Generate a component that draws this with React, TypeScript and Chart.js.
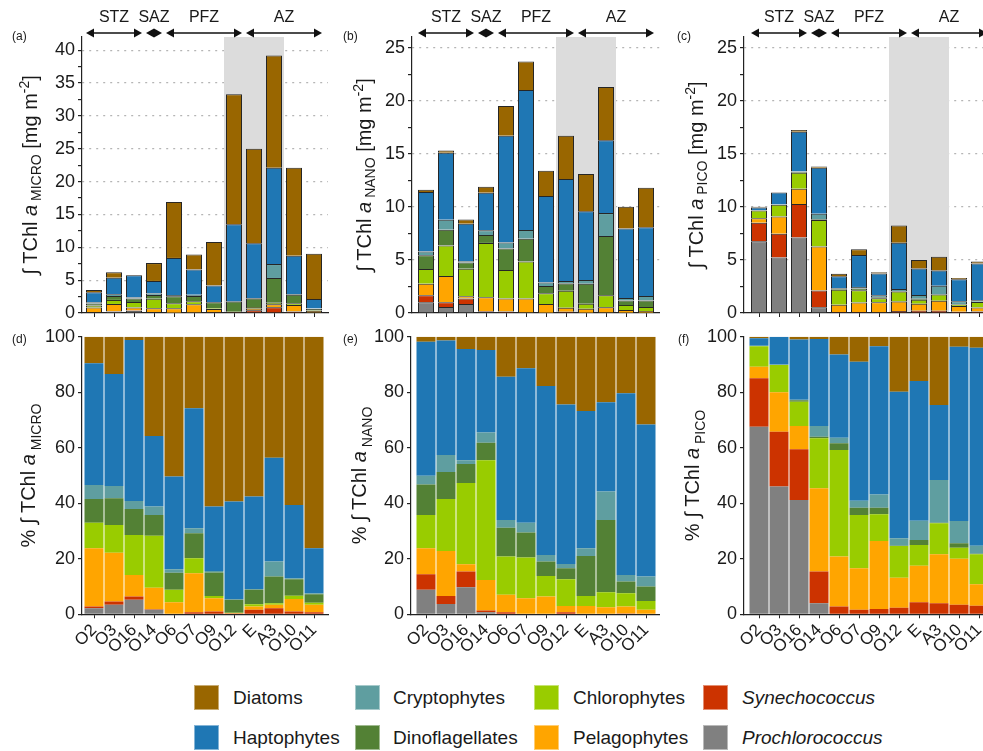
import React, { useEffect, useRef } from 'react';
import { Chart, registerables } from 'chart.js';

Chart.register(...registerables);

const FONT = '"Liberation Sans", Arial, Helvetica, sans-serif';
const INK = '#1a1a1a';

// ---------- categories ----------
const stations = ['O2', 'O3', 'O16', 'O14', 'O6', 'O7', 'O9', 'O12', 'E', 'A3', 'O10', 'O11'];

// ---------- zones (in station-index units) ----------
const zoneNames = ['STZ', 'SAZ', 'PFZ', 'AZ'];
const zoneStart = [-0.5, 2.5, 3.5, 7.5];
const zoneEnd = [2.5, 3.5, 7.5, 11.5];
const shadeStart = 6.5;
const shadeEnd = 9.5;

// ---------- integrated TChl a totals [mg m-2] ----------
const microTotal = [3.5, 6.2, 5.8, 7.6, 16.9, 8.9, 10.8, 33.3, 25.0, 39.2, 22.1, 9.0];
const nanoTotal = [11.6, 15.3, 8.8, 11.9, 19.5, 23.7, 13.4, 16.7, 13.1, 21.3, 10.0, 11.8];
const picoTotal = [10.0, 11.35, 17.25, 13.8, 3.7, 6.0, 3.85, 8.25, 5.0, 5.3, 3.3, 4.85];

// ---------- % contribution, MICRO ----------
const microProchlorococcus = [2.2, 3.4, 5.2, 1.6, 0, 0, 0, 0, 0, 0, 0, 0];
const microSynechococcus = [0.6, 1.2, 1.2, 0.2, 0.2, 0.7, 1.0, 0.3, 1.6, 2.2, 1.0, 0.7];
const microPelagophytes = [21.0, 17.6, 7.8, 7.8, 4.1, 14.1, 4.8, 0.2, 1.2, 1.2, 4.5, 2.7];
const microChlorophytes = [9.2, 10.0, 14.4, 18.7, 4.5, 5.4, 0.8, 0.1, 0.8, 0.6, 1.2, 0.8];
const microDinoflagellates = [8.5, 9.6, 9.3, 7.5, 6.2, 9.0, 8.5, 4.6, 5.2, 9.6, 5.9, 3.0];
const microCryptophytes = [5.1, 4.4, 2.9, 3.0, 1.2, 1.8, 0.5, 0.1, 0.3, 5.4, 0.4, 0.4];
const microHaptophytes = [43.8, 40.4, 58.0, 25.4, 33.4, 43.2, 23.2, 35.3, 33.3, 37.4, 26.4, 16.2];
const microDiatoms = [9.6, 13.4, 1.2, 35.8, 50.4, 25.8, 61.2, 59.4, 57.6, 43.6, 60.6, 76.2];

// ---------- % contribution, NANO ----------
const nanoProchlorococcus = [8.8, 3.7, 9.7, 0.7, 0, 0, 0, 0, 0, 0, 0, 0];
const nanoSynechococcus = [5.6, 2.9, 5.7, 0.7, 0.7, 0.2, 0.2, 0.7, 0.2, 0.2, 0.3, 0.2];
const nanoPelagophytes = [9.4, 16.2, 2.6, 11.0, 6.3, 5.6, 6.2, 2.3, 2.8, 2.3, 2.5, 1.4];
const nanoChlorophytes = [12.0, 18.7, 29.3, 43.1, 13.8, 14.7, 7.4, 9.6, 3.6, 5.4, 4.8, 3.2];
const nanoDinoflagellates = [11.0, 9.8, 6.8, 6.3, 10.4, 9.0, 5.2, 4.0, 14.4, 26.1, 4.2, 5.2];
const nanoCryptophytes = [3.1, 6.1, 1.4, 3.7, 2.8, 3.5, 2.4, 1.5, 2.8, 10.2, 2.4, 3.6];
const nanoHaptophytes = [48.3, 41.2, 40.1, 29.7, 51.6, 55.6, 60.8, 57.5, 49.4, 32.2, 65.4, 54.8];
const nanoDiatoms = [1.8, 1.4, 4.4, 4.8, 14.4, 11.4, 17.8, 24.4, 26.8, 23.6, 20.4, 31.6];

// ---------- % contribution, PICO ----------
const picoProchlorococcus = [67.6, 46.0, 41.2, 4.0, 0, 0, 0, 0, 0, 0, 0, 0];
const picoSynechococcus = [17.4, 19.8, 18.3, 11.4, 2.8, 1.6, 1.9, 2.4, 4.3, 4.0, 3.4, 3.1];
const picoPelagophytes = [4.2, 14.2, 8.3, 30.0, 18.0, 15.0, 24.5, 10.8, 13.2, 17.6, 16.6, 7.7];
const picoChlorophytes = [7.4, 9.8, 8.8, 18.0, 38.4, 19.2, 9.6, 11.4, 7.5, 11.2, 4.0, 10.8];
const picoDinoflagellates = [0, 0, 0.5, 0.6, 2.4, 2.6, 2.4, 0.1, 1.8, 0.2, 1.6, 0.2];
const picoCryptophytes = [0.1, 0.2, 0.2, 3.8, 2.0, 2.5, 4.8, 2.7, 6.9, 15.4, 8.0, 2.9];
const picoHaptophytes = [2.7, 10.0, 21.7, 31.4, 30.0, 50.1, 53.4, 52.8, 50.3, 27.0, 62.8, 71.3];
const picoDiatoms = [0.6, 0, 1.0, 0.8, 6.4, 9.0, 3.4, 19.8, 16.0, 24.6, 3.6, 4.0];

// ---------- groups (stack order: bottom -> top) ----------
const groupNames = ['Prochlorococcus', 'Synechococcus', 'Pelagophytes', 'Chlorophytes', 'Dinoflagellates', 'Cryptophytes', 'Haptophytes', 'Diatoms'];
const groupColors = ['#808080', '#CC3300', '#FFA500', '#99CC00', '#538135', '#5F9EA0', '#1F77B4', '#996600'];

const microShares = [microProchlorococcus, microSynechococcus, microPelagophytes, microChlorophytes, microDinoflagellates, microCryptophytes, microHaptophytes, microDiatoms];
const nanoShares = [nanoProchlorococcus, nanoSynechococcus, nanoPelagophytes, nanoChlorophytes, nanoDinoflagellates, nanoCryptophytes, nanoHaptophytes, nanoDiatoms];
const picoShares = [picoProchlorococcus, picoSynechococcus, picoPelagophytes, picoChlorophytes, picoDinoflagellates, picoCryptophytes, picoHaptophytes, picoDiatoms];

// ---------- legend ----------
const legendNames = ['Diatoms', 'Haptophytes', 'Cryptophytes', 'Dinoflagellates', 'Chlorophytes', 'Pelagophytes', 'Synechococcus', 'Prochlorococcus'];
const legendColors = ['#996600', '#1F77B4', '#5F9EA0', '#538135', '#99CC00', '#FFA500', '#CC3300', '#808080'];
const legendItalic = [false, false, false, false, false, false, true, true];

type Size = 'MICRO' | 'NANO' | 'PICO';
type Panel = {
  letter: string; size: Size; pct: boolean;
  left: number; top: number; w: number; h: number;
  L: number; R: number; T: number; B: number;
  xMin: number; yMax: number; yLabelMax: number; yStep: number;
  titleX: number; subDy: number; letterX: number; letterY: number;
};

const PANELS: Panel[] = [
  { letter: '(a)', size: 'MICRO', pct: false, left: 0, top: 0, w: 330, h: 320, L: 82, R: 328, T: 37, B: 313, xMin: -0.6, yMax: 42, yLabelMax: 40, yStep: 2.5, titleX: 37, subDy: 4, letterX: 12, letterY: 37 },
  { letter: '(b)', size: 'NANO', pct: false, left: 330, top: 0, w: 330, h: 320, L: 82, R: 330, T: 37, B: 313, xMin: -0.7, yMax: 26, yLabelMax: 25, yStep: 2.5, titleX: 41, subDy: 4, letterX: 13, letterY: 37 },
  { letter: '(c)', size: 'PICO', pct: false, left: 660, top: 0, w: 335, h: 320, L: 84, R: 333, T: 37, B: 313, xMin: -0.75, yMax: 26, yLabelMax: 25, yStep: 2.5, titleX: 43, subDy: 4, letterX: 17, letterY: 37 },
  { letter: '(d)', size: 'MICRO', pct: true, left: 0, top: 320, w: 330, h: 340, L: 82, R: 328, T: 16.7, B: 294.3, xMin: -0.6, yMax: 100, yLabelMax: 100, yStep: 20, titleX: 35, subDy: 6, letterX: 12, letterY: 20 },
  { letter: '(e)', size: 'NANO', pct: true, left: 330, top: 320, w: 330, h: 340, L: 81, R: 330, T: 16.7, B: 294.3, xMin: -0.75, yMax: 100, yLabelMax: 100, yStep: 20, titleX: 36, subDy: 6, letterX: 13, letterY: 20 },
  { letter: '(f)', size: 'PICO', pct: true, left: 660, top: 320, w: 335, h: 340, L: 84, R: 333, T: 16.7, B: 294.3, xMin: -0.75, yMax: 100, yLabelMax: 100, yStep: 20, titleX: 39, subDy: 6, letterX: 18, letterY: 20 },
];
const X_MAX = 11.7;

function sharesFor(size: Size) {
  return size === 'MICRO' ? microShares : size === 'NANO' ? nanoShares : picoShares;
}
function totalsFor(size: Size) {
  return size === 'MICRO' ? microTotal : size === 'NANO' ? nanoTotal : picoTotal;
}

type Seg = { t: string; size: number; italic?: boolean; dy?: number };

function drawVerticalRich(ctx: CanvasRenderingContext2D, segs: Seg[], x: number, cy: number) {
  ctx.save();
  ctx.translate(x, cy);
  ctx.rotate(-Math.PI / 2);
  const fontOf = (s: Seg) => `${s.italic ? 'italic ' : ''}${s.size}px ${FONT}`;
  let total = 0;
  for (const s of segs) {
    ctx.font = fontOf(s);
    total += ctx.measureText(s.t).width;
  }
  let cur = -total / 2;
  ctx.fillStyle = INK;
  ctx.textAlign = 'left';
  ctx.textBaseline = 'alphabetic';
  for (const s of segs) {
    ctx.font = fontOf(s);
    ctx.fillText(s.t, cur, s.dy || 0);
    cur += ctx.measureText(s.t).width;
  }
  ctx.restore();
}

const overlayPlugin = {
  id: 'overlay',
  beforeDatasetsDraw(chart: any, _args: any, opts: any) {
    if (!opts.shade) return;
    const { ctx, chartArea } = chart;
    const x = chart.scales.x;
    const x1 = x.getPixelForValue(shadeStart);
    const x2 = x.getPixelForValue(shadeEnd);
    ctx.save();
    ctx.fillStyle = '#dcdcdc';
    ctx.fillRect(x1, chartArea.top, x2 - x1, chartArea.bottom - chartArea.top - 1);
    ctx.restore();
  },
  afterDraw(chart: any, _args: any, opts: any) {
    const { ctx, chartArea } = chart;
    const x = chart.scales.x;
    // panel letter
    ctx.save();
    ctx.font = `12px ${FONT}`;
    ctx.fillStyle = INK;
    ctx.textAlign = 'left';
    ctx.textBaseline = 'middle';
    ctx.fillText(opts.letter, opts.letterX, opts.letterY);
    ctx.restore();
    // zone arrows
    if (opts.zones) {
      ctx.save();
      ctx.strokeStyle = '#111';
      ctx.fillStyle = '#111';
      ctx.lineWidth = 1.6;
      const y = 33;
      for (let k = 0; k < zoneNames.length; k++) {
        const x1 = x.getPixelForValue(zoneStart[k]) + 2;
        const x2 = x.getPixelForValue(zoneEnd[k]) - 2;
        ctx.beginPath();
        ctx.moveTo(x1 + 5, y);
        ctx.lineTo(x2 - 5, y);
        ctx.stroke();
        ctx.beginPath();
        ctx.moveTo(x1, y);
        ctx.lineTo(x1 + 8, y - 4.5);
        ctx.lineTo(x1 + 8, y + 4.5);
        ctx.closePath();
        ctx.fill();
        ctx.beginPath();
        ctx.moveTo(x2, y);
        ctx.lineTo(x2 - 8, y - 4.5);
        ctx.lineTo(x2 - 8, y + 4.5);
        ctx.closePath();
        ctx.fill();
        ctx.font = `16px ${FONT}`;
        ctx.textAlign = 'center';
        ctx.textBaseline = 'middle';
        ctx.fillStyle = INK;
        const cx = (x.getPixelForValue(zoneStart[k]) + x.getPixelForValue(zoneEnd[k])) / 2;
        ctx.fillText(zoneNames[k], cx, 18);
        ctx.fillStyle = '#111';
      }
      ctx.restore();
    }
    // y title
    const segs: Seg[] = opts.pct
      ? [
          { t: '% \u222B TChl ', size: 20 },
          { t: 'a', size: 20, italic: true },
          { t: ' ' + opts.size, size: 14, dy: opts.subDy },
        ]
      : [
          { t: '\u222B TChl ', size: 20 },
          { t: 'a', size: 20, italic: true },
          { t: ' ' + opts.size, size: 14, dy: opts.subDy },
          { t: ' [mg m', size: 20 },
          { t: '-2', size: 14, dy: -8 },
          { t: ']', size: 20 },
        ];
    drawVerticalRich(ctx, segs, opts.titleX, (chartArea.top + chartArea.bottom) / 2);
  },
};

function buildChart(canvas: HTMLCanvasElement, p: Panel) {
  const shares = sharesFor(p.size);
  const totals = totalsFor(p.size);
  const datasets = shares.map((arr, g) => ({
    label: groupNames[g],
    data: arr.map((v, i) => {
      let sum = 0;
      for (const a of shares) sum += a[i];
      const frac = v / sum;
      return { x: i, y: p.pct ? frac * 100 : frac * totals[i] };
    }),
    backgroundColor: groupColors[g],
    borderColor: p.pct ? groupColors[g] : '#262626',
    borderWidth: p.pct ? 0 : 1,
    barPercentage: p.pct ? 0.95 : 0.8,
    categoryPercentage: 1,
    stack: 's',
  }));

  const tickFont = { family: FONT, size: 18 };

  return new Chart(canvas, {
    type: 'bar',
    data: { datasets: datasets as any },
    plugins: [overlayPlugin as any],
    options: {
      animation: false,
      responsive: false,
      devicePixelRatio: 1,
      layout: { padding: { left: 0, top: p.T, right: p.w - p.R, bottom: 0 } },
      plugins: {
        legend: { display: false },
        tooltip: { enabled: false },
        overlay: {
          shade: !p.pct, zones: !p.pct, pct: p.pct, size: p.size,
          titleX: p.titleX, subDy: p.subDy, letter: p.letter, letterX: p.letterX, letterY: p.letterY,
        },
      } as any,
      scales: {
        x: {
          type: 'linear',
          min: p.xMin,
          max: X_MAX,
          offset: false,
          grid: {
            offset: false,
            drawOnChartArea: false,
            drawTicks: true,
            tickLength: 4,
            tickColor: '#222',
            color: 'rgba(0,0,0,0)',
          },
          border: { display: true, color: '#222', width: 1.2 },
          afterBuildTicks: (s: any) => {
            s.ticks = stations.map((_, i) => ({ value: i }));
          },
          afterFit: (s: any) => {
            s.height = p.h - p.B;
            s.paddingLeft = 0;
            s.paddingRight = 0;
          },
          ticks: {
            autoSkip: false,
            padding: 2,
            color: INK,
            font: { family: FONT, size: 17 },
            minRotation: p.pct ? 45 : 0,
            maxRotation: p.pct ? 45 : 0,
            callback: (v: any) => (p.pct ? stations[Math.round(Number(v))] ?? '' : ''),
          },
        },
        y: {
          type: 'linear',
          min: 0,
          max: p.yMax,
          stacked: true,
          grid: {
            drawOnChartArea: !p.pct,
            drawTicks: true,
            tickLength: 4,
            tickColor: '#222',
            lineWidth: 1.2,
            color: (c: any) =>
              !p.pct && c.tick && c.tick.value > 0 && c.tick.value % 5 === 0 ? '#b5b5b5' : 'rgba(0,0,0,0)',
          },
          border: { display: true, color: '#222', width: 1.2, dash: [2, 5] },
          afterBuildTicks: (s: any) => {
            const t: any[] = [];
            for (let v = 0; v <= p.yLabelMax + 1e-9; v += p.yStep) t.push({ value: v });
            s.ticks = t;
          },
          afterFit: (s: any) => {
            s.width = p.L;
            s.paddingTop = 0;
            s.paddingBottom = 0;
          },
          ticks: {
            autoSkip: false,
            padding: 3,
            color: INK,
            font: tickFont,
            callback: (v: any) => {
              const n = Number(v);
              if (p.pct) return String(n);
              return Math.abs(n % 5) < 1e-9 ? String(n) : '';
            },
          },
        },
      },
    } as any,
  });
}

export default function App() {
  const refs = useRef<(HTMLCanvasElement | null)[]>([]);

  useEffect(() => {
    const charts = PANELS.map((p, i) => buildChart(refs.current[i] as HTMLCanvasElement, p));
    return () => {
      charts.forEach((c) => c.destroy());
    };
  }, []);

  const sqX = [194, 355, 534, 703];
  const txtX = [233, 393, 573, 742];
  const rowY = [685, 725];

  return (
    <div
      style={{
        position: 'absolute', left: 0, top: 0, width: 983, height: 751,
        overflow: 'hidden', background: '#fff', fontFamily: FONT, color: INK,
      }}
    >
      {PANELS.map((p, i) => (
        <canvas
          key={p.letter}
          ref={(el) => {
            refs.current[i] = el;
          }}
          width={p.w}
          height={p.h}
          style={{ position: 'absolute', left: p.left, top: p.top, width: p.w, height: p.h }}
        />
      ))}
      {legendNames.map((name, k) => {
        const col = Math.floor(k / 2);
        const row = k % 2;
        return (
          <React.Fragment key={name}>
            <div
              style={{
                position: 'absolute', left: sqX[col], top: rowY[row], width: 25, height: 25,
                background: legendColors[k], boxSizing: 'border-box',
                border: '1px solid rgba(255,255,255,0.45)',
              }}
            />
            <div
              style={{
                position: 'absolute', left: txtX[col], top: rowY[row] + 1, height: 24,
                lineHeight: '24px', fontSize: 19, whiteSpace: 'nowrap',
                fontStyle: legendItalic[k] ? 'italic' : 'normal',
              }}
            >
              {name}
            </div>
          </React.Fragment>
        );
      })}
    </div>
  );
}
